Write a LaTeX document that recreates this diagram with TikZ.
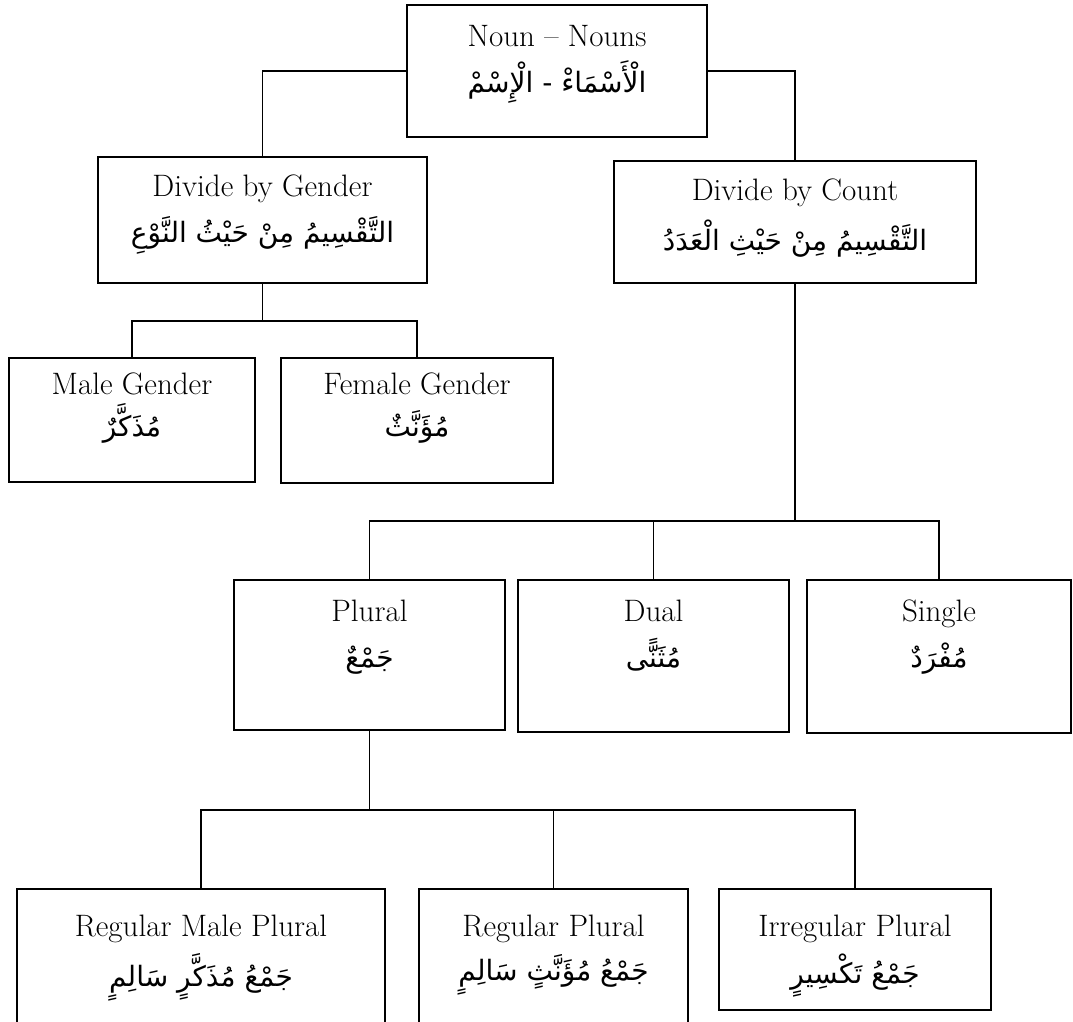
\documentclass[tikz,border=0pt]{standalone}
\usepackage{fontspec}
\usepackage{tikz}
\usetikzlibrary{positioning}
\newfontfamily\arabicfont[Script=Arabic]{DejaVu Sans}
\TeXXeTstate=1
\newcommand{\arab}[1]{{\arabicfont\fontsize{28}{30}\selectfont\beginR #1\endR}}

\begin{document}
\begin{tikzpicture}
[
x=1pt, y=-1pt,
every node/.style={inner sep=0pt, outer sep=0pt},
box/.style={draw, line width=1.6pt},
lbl/.style={align=center, font=\fontsize{31}{34}\selectfont},
link/.style={line width=1.5pt}
]
\useasboundingbox (0,0) rectangle (1073,1021);
\clip (0,0) rectangle (1073,1021);

\node[box, minimum width=300, minimum height=132] (root) at (557,71) {};
\node[box, minimum width=329, minimum height=126] (gender) at (262.5,220) {};
\node[box, minimum width=362, minimum height=122] (count) at (795,222) {};
\node[box, minimum width=246, minimum height=124] (male) at (132,420) {};
\node[box, minimum width=272, minimum height=125] (female) at (417,420.5) {};
\node[box, minimum width=271, minimum height=150] (plural) at (369.5,655) {};
\node[box, minimum width=271, minimum height=152] (dual) at (653.5,656) {};
\node[box, minimum width=264, minimum height=153] (single) at (939,656.5) {};
\node[box, minimum width=368, minimum height=150] (regmale) at (201,964) {};
\node[box, minimum width=269, minimum height=150] (regfem) at (553.5,964) {};
\node[box, minimum width=272, minimum height=121] (irreg) at (855,949.5) {};

\node[lbl, below=20pt of root.north] (roottxt) {Noun -- Nouns\\[12pt] \arab{الْأَسْمَاءْ - الْإِسْمْ}};
\node[lbl, below=18pt of gender.north] (gendertxt) {Divide by Gender\\[12pt] \arab{التَّقْسِيمُ مِنْ حَيْثُ النَّوْعِ}};
\node[lbl, below=18pt of count.north] (counttxt) {Divide by Count\\[12pt] \arab{التَّقْسِيمُ مِنْ حَيْثِ الْعَدَدُ}};
\node[lbl, below=15pt of male.north] (maletxt) {Male Gender\\[8pt] \arab{مُذَكَّرٌ}};
\node[lbl, below=15pt of female.north] (femaletxt) {Female Gender\\[8pt] \arab{مُؤَنَّثٌ}};
\node[lbl, below=20pt of plural.north] (pluraltxt) {Plural\\[12pt] \arab{جَمْعٌ}};
\node[lbl, below=20pt of dual.north] (dualtxt) {Dual\\[12pt] \arab{مُثَنًّى}};
\node[lbl, below=20pt of single.north] (singletxt) {Single\\[12pt] \arab{مُفْرَدٌ}};
\node[lbl, below=26pt of regmale.north] (regmaletxt) {Regular Male Plural\\[10pt] \arab{جَمْعُ مُذَكَّرٍ سَالِمٍ}};
\node[lbl, below=26pt of regfem.north] (regfemtxt) {Regular Plural\\[10pt] \arab{جَمْعُ مُؤَنَّثٍ سَالِمٍ}};
\node[lbl, below=26pt of irreg.north] (irregtxt) {Irregular Plural\\[10pt] \arab{جَمْعُ تَكْسِيرٍ}};

\coordinate (gjoin) at (262.5,321);
\coordinate (cjoin) at (795,521);
\coordinate (pjoin) at (369.5,810);

\draw[link] (root.west) -| (gender.north);
\draw[link] (root.east) -| (count.north);
\draw[link] (gender.south) -- (gjoin);
\draw[link] (male.north) |- (gjoin) -| (female.north);
\draw[link] (count.south) -- (cjoin);
\draw[link] (plural.north) |- (cjoin) -| (single.north);
\draw[link] (dual.north) -- (dual.north |- cjoin);
\draw[link] (plural.south) -- (pjoin);
\draw[link] (regmale.north) |- (pjoin) -| (irreg.north);
\draw[link] (regfem.north) -- (regfem.north |- pjoin);
\end{tikzpicture}
\end{document}
